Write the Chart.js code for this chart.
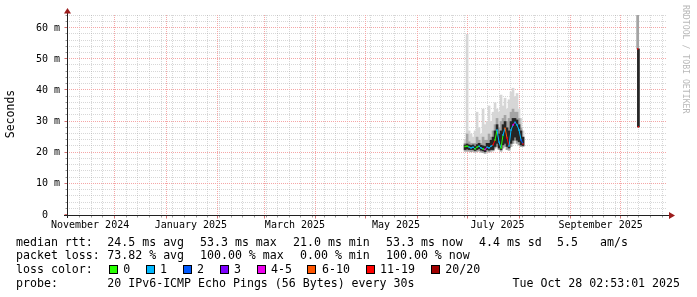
<!DOCTYPE html>
<html lang="en">
<head>
<meta charset="UTF-8">
<title>SmokePing - last year</title>
<style>
  html, body { margin: 0; padding: 0; background: #fff; }
  #chart { display: block; }
</style>
</head>
<body>
<canvas id="chart" width="697" height="297"></canvas>
<script src="https://cdn.jsdelivr.net/npm/chart.js"></script>
<script>
// x values are days counted from 1 Nov 2024 00:00
const monthStarts = [30, 61, 92, 120, 151, 181, 212, 242, 273, 304, 334];
const labelDays = [15.6, 76.2, 138.7, 199.4, 260.4, 322.3];
const monthLabels = ['November 2024', 'January 2025', 'March 2025', 'May 2025', 'July 2025', 'September 2025'];
const yTicks = [0, 10, 20, 30, 40, 50, 60];
const yTickLabels = [' 0  ', '10 m', '20 m', '30 m', '40 m', '50 m', '60 m'];

// one entry per sample, null = no answer (gap)
const sampleDays = [240.9, 242.1, 243.3, 244.5, 245.7, 246.9, 248.1, 249.3, 250.5, 251.7,
                    252.9, 254.1, 255.3, 256.5, 257.7, 258.9, 260.1, 261.3, 262.5, 263.7,
                    264.9, 266.1, 267.3, 268.5, 269.7, 270.9, 272.1, 273.3, 274.5, 275.7,
                    310.0, 344.6, 344.8, 345.0];
const medianMs = [22.0, 22.1, 21.8, 21.5, 21.8, 21.2, 21.8, 22.1, 21.5, 21.2,
                  21.0, 21.8, 21.5, 22.1, 22.5, 24.1, 27.3, 23.4, 21.5, 25.7,
                  27.9, 24.7, 22.1, 27.3, 28.9, 29.8, 28.9, 27.3, 24.1, 22.8,
                  null, 53.3, null, 28.3];
const lossCount = [0, 0, 1, 1, 1, 0, 0, 1, 1, 0,
                   4, 1, 1, 1, 12, 0, 1, 1, 0, 1,
                   7, 12, 1, 1, 4, 1, 1, 1, 2, 12,
                   20, 14, 20, 14];
const pingMin = [20.5, 20.5, 20.5, 20.3, 20.5, 20.2, 20.4, 20.6, 20.2, 20.0,
                 19.8, 20.4, 20.2, 20.5, 20.6, 21.5, 22.0, 21.0, 20.5, 21.5,
                 22.0, 21.0, 20.8, 22.0, 23.0, 24.0, 23.0, 22.5, 22.0, 22.0,
                 null, 53.3, null, 28.3];
const pingMax = [24, 58, 27, 26, 25, 27, 33, 28, 26, 34,
                 29, 30, 35, 30, 33, 36, 34, 33, 38.5, 35,
                 37.5, 34, 37, 39.5, 40.7, 38, 39, 34, 31, 27,
                 null, 64.2, null, 53.3];
const pingUpper = [23, 26, 23.5, 23, 23, 23, 25, 24, 23, 25,
                   24, 24, 26, 25, 27, 29, 31, 28, 30, 31,
                   32, 30, 31, 33, 34, 33, 33, 31, 28, 25,
                   null, 64.2, null, 53.3];
const coreLow = [21, 21.2, 21, 21, 21, 20.7, 21, 21.3, 20.8, 20.6,
                 20.3, 21, 20.8, 21, 21, 22, 23, 21.5, 21, 22.5,
                 23, 22, 21.5, 23, 24, 25, 24, 23.5, 22.5, 22.3,
                 null, null, null, 28.3];
const coreHigh = [22.5, 22.8, 22.5, 22.3, 22.5, 22, 22.6, 23, 22.4, 22.2,
                  22, 23, 23, 24, 25, 27, 29, 26, 27, 29,
                  30, 28, 27, 30, 31, 31, 30.5, 29, 27, 25,
                  null, null, null, 53.3];

const lossSteps = [0, 1, 2, 3, 5, 10, 19, 20];
const lossNames = ['0', '1', '2', '3', '4-5', '6-10', '11-19', '20/20'];
const lossColors = ['#26ff00', '#00b8ff', '#0059ff', '#7e00ff', '#ee00ee', '#ff5500', '#ff0000', '#a00000'];

const statLines = [
  ['median rtt:', '24.5 ms avg', '53.3 ms max', '21.0 ms min', '53.3 ms now', '4.4 ms sd', '5.5', 'am/s'],
  ['packet loss:', '73.82 % avg', '100.00 % max', '0.00 % min', '100.00 % now']
];
const statX = [
  [16, 107.3, 200, 293, 386, 479, 557, 600],
  [16, 107.3, 200, 300, 386]
];
const probeText = '20 IPv6-ICMP Echo Pings (56 Bytes) every 30s';
const stampText = 'Tue Oct 28 02:53:01 2025';

function lossColor(n) {
    for (let i = 0; i < lossSteps.length; i++) {
        if (n <= lossSteps[i]) return lossColors[i];
    }
    return lossColors[lossColors.length - 1];
}

const band = (lo, hi) => sampleDays.map((d, i) => ({
    x: d,
    y: (lo[i] == null || hi[i] == null) ? null : [lo[i], hi[i]]
}));

const mono = '"DejaVu Sans Mono", monospace';

// grid, axes, arrows and the text block under the graph, rrdtool style
const rrdLook = {
    id: 'rrdLook',
    beforeDatasetsDraw(chart) {
        const {ctx, chartArea: a, scales: {x, y}} = chart;
        const px = v => Math.round(x.getPixelForValue(v)) + 0.5;
        const py = v => Math.round(y.getPixelForValue(v)) - 0.5;
        ctx.save();
        ctx.lineWidth = 1;
        ctx.setLineDash([1, 1]);
        // minor
        ctx.strokeStyle = 'rgba(160,160,160,0.42)';
        ctx.beginPath();
        for (let d = 2; d < x.max; d += 7) {
            if (monthStarts.includes(d)) continue;
            ctx.moveTo(px(d), a.top); ctx.lineTo(px(d), a.bottom);
        }
        for (let v = 2; v <= y.max; v += 2) {
            if (v % 10 === 0) continue;
            ctx.moveTo(a.left, py(v)); ctx.lineTo(a.right, py(v));
        }
        ctx.stroke();
        // major
        ctx.strokeStyle = '#f5a6a6';
        ctx.beginPath();
        monthStarts.forEach(d => { ctx.moveTo(px(d), a.top); ctx.lineTo(px(d), a.bottom); });
        yTicks.slice(1).forEach(v => { ctx.moveTo(a.left, py(v)); ctx.lineTo(a.right, py(v)); });
        ctx.stroke();
        ctx.restore();
    },
    afterDraw(chart) {
        const {ctx, chartArea: a, scales: {x, y}} = chart;
        const px = v => Math.round(x.getPixelForValue(v)) + 0.5;
        const py = v => Math.round(y.getPixelForValue(v)) - 0.5;
        const x0 = a.left + 0.5, y0 = a.bottom + 0.5;
        ctx.save();
        ctx.lineWidth = 1;
        // ticks
        ctx.strokeStyle = '#999';
        ctx.beginPath();
        for (let v = 2; v <= y.max; v += 2) { ctx.moveTo(x0 - 2, py(v)); ctx.lineTo(x0, py(v)); }
        for (let d = 2; d < x.max; d += 7) { ctx.moveTo(px(d), y0); ctx.lineTo(px(d), y0 + 2); }
        ctx.stroke();
        ctx.strokeStyle = '#d07070';
        ctx.beginPath();
        yTicks.forEach(v => { ctx.moveTo(x0 - 3, py(v)); ctx.lineTo(x0, py(v)); });
        monthStarts.forEach(d => { ctx.moveTo(px(d), y0); ctx.lineTo(px(d), y0 + 3); });
        ctx.stroke();
        // axes
        ctx.strokeStyle = '#202020';
        ctx.beginPath();
        ctx.moveTo(x0, a.bottom + 3); ctx.lineTo(x0, 11);
        ctx.moveTo(a.left - 3, y0); ctx.lineTo(670, y0);
        ctx.stroke();
        ctx.fillStyle = '#9b1c1c';
        ctx.beginPath();
        ctx.moveTo(x0 - 3.5, 13.5); ctx.lineTo(x0 + 3.5, 13.5); ctx.lineTo(x0, 8);
        ctx.closePath(); ctx.fill();
        ctx.beginPath();
        ctx.moveTo(669, y0 - 3.5); ctx.lineTo(669, y0 + 3.5); ctx.lineTo(675, y0);
        ctx.closePath(); ctx.fill();

        // y axis title
        ctx.fillStyle = '#000';
        ctx.font = '11.5px ' + mono;
        ctx.textAlign = 'center';
        ctx.textBaseline = 'middle';
        ctx.save();
        ctx.translate(11, 114);
        ctx.rotate(-Math.PI / 2);
        ctx.fillText('Seconds', 0, 0);
        ctx.restore();

        // watermark
        ctx.save();
        ctx.fillStyle = '#b8b8b8';
        ctx.font = '8.2px ' + mono;
        ctx.textAlign = 'left';
        ctx.translate(685.5, 5);
        ctx.rotate(Math.PI / 2);
        ctx.fillText('RRDTOOL / TOBI OETIKER', 0, 0);
        ctx.restore();

        // legend block
        ctx.font = '11.6px ' + mono;
        ctx.textAlign = 'left';
        ctx.textBaseline = 'alphabetic';
        ctx.fillStyle = '#000';
        const base = [245.5, 259.2, 272.9, 286.6];
        statLines.forEach((parts, r) => {
            parts.forEach((t, i) => ctx.fillText(t, statX[r][i], base[r]));
        });
        ctx.fillText('loss color:', 16, base[2]);
        const boxX = [109, 146, 183, 219.5, 256.5, 307, 366, 431];
        const txtX = [123.3, 160, 197, 234, 271, 322, 380, 445.3];
        lossNames.forEach((name, i) => {
            const bx = Math.round(boxX[i]) + 0.5;
            ctx.fillStyle = lossColors[i];
            ctx.fillRect(bx, 265.5, 8, 8);
            ctx.strokeStyle = '#000';
            ctx.strokeRect(bx, 265.5, 8, 8);
            ctx.fillStyle = '#000';
            ctx.fillText(name, txtX[i], base[2]);
        });
        ctx.fillText('probe:', 16, base[3]);
        ctx.fillText(probeText, 107.3, base[3]);
        ctx.textAlign = 'right';
        ctx.fillText(stampText, 680, base[3]);
        ctx.restore();
    }
};

const data = {
    datasets: [{
        type: 'line',
        label: 'median rtt',
        data: sampleDays.map((d, i) => ({x: d, y: medianMs[i]})),
        borderWidth: 1,
        borderColor: lossColors[0],
        segment: {
            borderColor: c => lossColor(lossCount[c.p0DataIndex])
        },
        pointStyle: 'rect',
        pointRadius: 1,
        pointBorderWidth: 0,
        pointBackgroundColor: lossCount.map(lossColor),
        spanGaps: false,
        tension: 0,
        order: 0
    }, {
        type: 'bar',
        label: 'core',
        data: band(coreLow, coreHigh),
        backgroundColor: '#262626',
        order: 1
    }, {
        type: 'bar',
        label: 'middle',
        data: band(pingMin, pingUpper),
        backgroundColor: '#a4a4a4',
        order: 2
    }, {
        type: 'bar',
        label: 'smoke',
        data: band(pingMin, pingMax),
        backgroundColor: '#d6d6d6',
        order: 3
    }]
};

const config = {
    type: 'bar',
    data,
    options: {
        responsive: false,
        animation: false,
        devicePixelRatio: 1,
        layout: { padding: { left: 0, right: 30, top: 15, bottom: 62 } },
        datasets: {
            bar: { barThickness: 2, grouped: false, borderWidth: 0 }
        },
        plugins: {
            legend: { display: false },
            tooltip: { enabled: false }
        },
        scales: {
            x: {
                type: 'linear',
                offset: false,
                min: 1.75,
                max: 362.2,
                grid: { display: false, drawTicks: false, offset: false },
                border: { display: false },
                afterBuildTicks: s => { s.ticks = labelDays.map(v => ({value: v})); },
                afterFit: s => { s.height = 20; },
                ticks: {
                    autoSkip: false,
                    maxRotation: 0,
                    padding: 4,
                    color: '#000',
                    font: { family: mono, size: 10 },
                    callback: (v, i) => monthLabels[i]
                }
            },
            y: {
                min: 0,
                max: 64.2,
                grid: { display: false, drawTicks: false },
                border: { display: false },
                afterBuildTicks: s => { s.ticks = yTicks.map(v => ({value: v})); },
                afterFit: s => { s.width = 67; },
                ticks: {
                    padding: 7,
                    color: '#000',
                    font: { family: mono, size: 10 },
                    callback: (v, i) => yTickLabels[i]
                }
            }
        }
    },
    plugins: [rrdLook]
};

const smokeChart = new Chart(document.getElementById('chart'), config);
</script>
</body>
</html>
